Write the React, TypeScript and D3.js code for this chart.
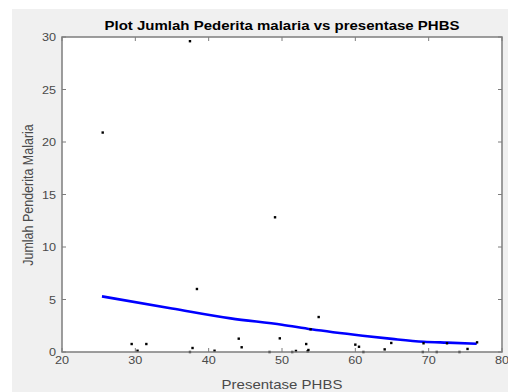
import React from "react";
import * as d3 from "d3";

const phbs = [37.45, 25.55, 38.4, 29.5, 30.3, 31.5, 37.8, 37.45, 40.8, 44.1, 49.05, 55.0, 44.5, 48.3, 49.7, 51.4, 51.9, 53.3, 53.5, 53.6, 53.9, 60.0, 60.5, 61.1, 64.0, 64.9, 69.3, 69.2, 71.1, 72.5, 74.2, 75.3, 76.6];
const malaria = [29.6, 20.9, 6.0, 0.76, 0.12, 0.76, 0.38, 0.0, 0.12, 1.27, 12.83, 3.33, 0.45, 0.0, 1.3, 0.0, 0.1, 0.76, 0.07, 0.19, 2.16, 0.7, 0.5, 0.0, 0.25, 0.86, 0.83, 0.0, 0.0, 0.83, 0.0, 0.29, 0.92];
const fitX = [25.45, 35, 43, 50, 54, 61, 65, 69.3, 72.5, 76.55];
const fitY = [5.3, 4.15, 3.2, 2.6, 2.16, 1.55, 1.25, 0.98, 0.89, 0.79];
const xTicks = [20, 30, 40, 50, 60, 70, 80];
const yTicks = [0, 5, 10, 15, 20, 25, 30];

const title = "Plot Jumlah Pederita malaria vs presentase PHBS";
const xLabel = "Presentase PHBS";
const yLabel = "Jumlah Penderita Malaria";

const W = 508;
const H = 392;
const L = 62, R = 502, T = 37, B = 352;
const FONT = "'Liberation Sans', Arial, sans-serif";
const SX = 1.2;
const AXC = "#7d7d7d";
const TXC = "#4a4a4a";

export default function App() {
  const x = d3.scaleLinear().domain([20, 80]).range([L, R]);
  const y = d3.scaleLinear().domain([0, 30]).range([B, T]);
  const line = d3
    .line<number>()
    .x((d, i) => x(fitX[i]))
    .y((d) => y(d))
    .curve(d3.curveMonotoneX);
  const tk = 4;
  return (
    <svg
      width={W}
      height={H}
      style={{ position: "absolute", left: 0, top: 0, display: "block" }}
      xmlns="http://www.w3.org/2000/svg"
    >
      <rect x={0} y={0} width={W} height={H} fill="#ffffff" />
      <rect x={12} y={9} width={W - 12} height={H - 9} fill="#f0f0f0" />
      <rect x={L} y={T} width={R - L} height={B - T} fill="#ffffff" />

      <path d={line(fitY) || ""} fill="none" stroke="#0000ff" strokeWidth={2.6} />

      {phbs.map((v, i) => (
        <rect key={i} x={x(v) - 1.2} y={y(malaria[i]) - 1.2} width={2.4} height={2.4} fill="#000" />
      ))}

      {xTicks.map((t) => (
        <g key={"xt" + t}>
          <line x1={x(t)} x2={x(t)} y1={B} y2={B - tk} stroke={AXC} strokeWidth={1} />
          <line x1={x(t)} x2={x(t)} y1={T} y2={T + tk} stroke={AXC} strokeWidth={1} />
          <text
            transform={`translate(${x(t)},364) scale(1.15,1)`}
            textAnchor="middle"
            fontFamily={FONT}
            fontSize={11}
            fill={TXC}
          >
            {t}
          </text>
        </g>
      ))}
      {yTicks.map((t) => (
        <g key={"yt" + t}>
          <line x1={L} x2={L + tk} y1={y(t)} y2={y(t)} stroke={AXC} strokeWidth={1} />
          <line x1={R} x2={R - tk} y1={y(t)} y2={y(t)} stroke={AXC} strokeWidth={1} />
          <text
            transform={`translate(56,${y(t) + 4}) scale(1.15,1)`}
            textAnchor="end"
            fontFamily={FONT}
            fontSize={11}
            fill={TXC}
          >
            {t}
          </text>
        </g>
      ))}

      <rect x={L} y={T} width={R - L} height={B - T} fill="none" stroke={AXC} strokeWidth={1.5} />

      <text
        transform={`translate(${(L + R) / 2},30) scale(${SX},1)`}
        textAnchor="middle"
        fontFamily={FONT}
        fontSize={12.5}
        fontWeight="bold"
        fill="#000"
      >
        {title}
      </text>
      <text
        transform={`translate(${(L + R) / 2},389) scale(${SX},1)`}
        textAnchor="middle"
        fontFamily={FONT}
        fontSize={12.5}
        fill={TXC}
      >
        {xLabel}
      </text>
      <text
        transform={`translate(33,195) rotate(-90) scale(1,${SX})`}
        textAnchor="middle"
        fontFamily={FONT}
        fontSize={12.5}
        fill={TXC}
      >
        {yLabel}
      </text>
    </svg>
  );
}
